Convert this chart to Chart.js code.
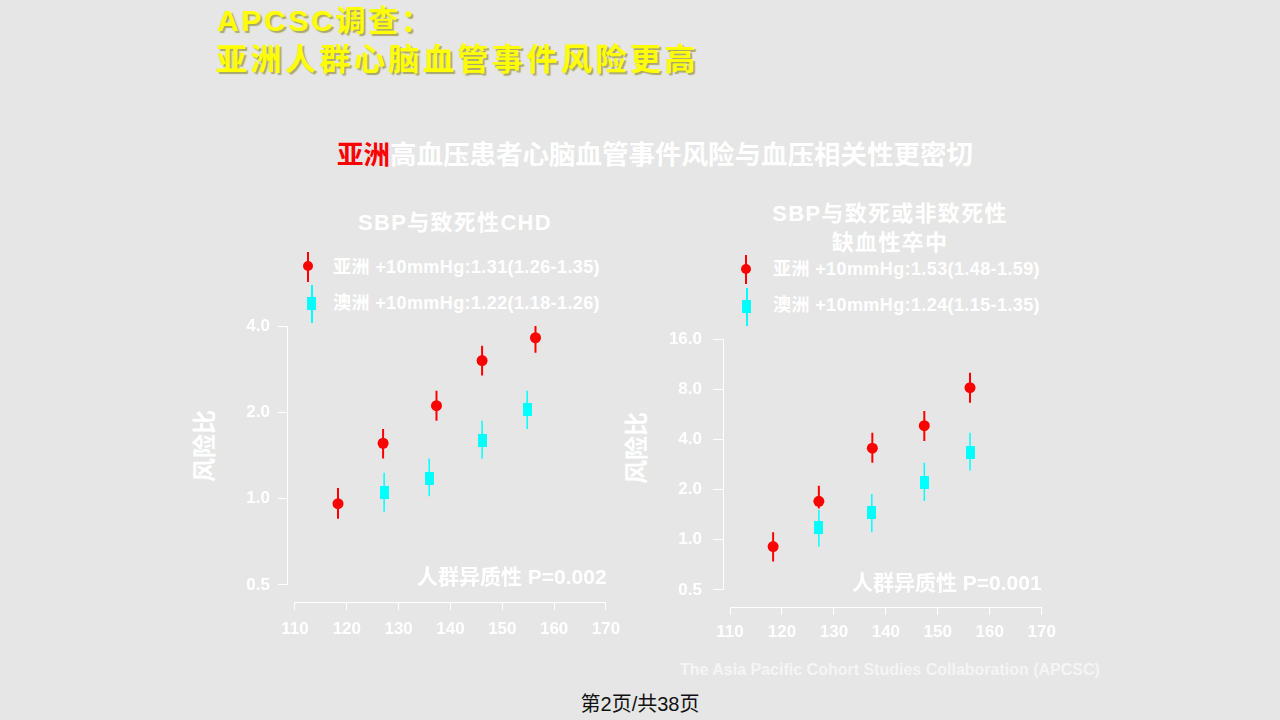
<!DOCTYPE html>
<html>
<head>
<meta charset="utf-8">
<script src="https://cdn.jsdelivr.net/npm/chart.js@4"></script>
<style>
  body { margin: 0; width: 1280px; height: 720px; background: #e6e6e6; position: relative; overflow: hidden;
         font-family: "Liberation Sans", "Noto Sans CJK SC", sans-serif; }
  .abs { position: absolute; white-space: nowrap; }
  .white { color: #ffffff; font-weight: bold; }
  .yel { color: #ffff00; font-weight: bold; text-shadow: 2px 2px 1px rgba(120,120,0,0.55); }
  canvas { position: absolute; }
  .vline { position: absolute; width: 2px; }
  .dot { position: absolute; width: 10px; height: 10px; border-radius: 50%; background: #ff0000; }
  .box { position: absolute; width: 9px; height: 13px; background: #00ffff; }
  .ytitle { position: absolute; transform: translate(-50%, -50%) rotate(-90deg); font-size: 24px; line-height: 28px; }
  .leg { font-size: 18px; line-height: 20px; letter-spacing: 0.4px; }
</style>
</head>
<body>
<div class="abs yel" style="left:217px; top:3px; font-size:30px; line-height:36px; letter-spacing:2.7px;">APCSC调查：</div>
<div class="abs yel" style="left:216px; top:42px; font-size:31px; line-height:36px; letter-spacing:3.5px;">亚洲人群心脑血管事件风险更高</div>

<div class="abs white" style="left:337px; top:140px; font-size:26.5px; line-height:30px;"><span style="color:#ff0000">亚洲</span>高血压患者心脑血管事件风险与血压相关性更密切</div>

<div class="abs white" style="left:455px; top:210px; font-size:22px; line-height:26px; letter-spacing:1.3px; transform:translateX(-50%);">SBP与致死性CHD</div>
<div class="abs white" style="left:890px; top:199px; font-size:22px; line-height:29px; letter-spacing:1.3px; transform:translateX(-50%); text-align:center;">SBP与致死或非致死性<br>缺血性卒中</div>

<!-- legend markers, left -->
<div class="vline" style="left:307px; top:252px; height:30px; background:#ff0000;"></div>
<div class="dot" style="left:303px; top:261px;"></div>
<div class="vline" style="left:311px; top:285px; height:38px; background:#00ffff; width:1.5px;"></div>
<div class="box" style="left:307px; top:297px;"></div>
<div class="abs white leg" style="left:333px; top:257px;">亚洲 +10mmHg:1.31(1.26-1.35)</div>
<div class="abs white leg" style="left:333px; top:293px;">澳洲 +10mmHg:1.22(1.18-1.26)</div>

<!-- legend markers, right -->
<div class="vline" style="left:745px; top:255px; height:29px; background:#ff0000;"></div>
<div class="dot" style="left:741px; top:264px;"></div>
<div class="vline" style="left:746px; top:288px; height:38px; background:#00ffff; width:1.5px;"></div>
<div class="box" style="left:742px; top:300px;"></div>
<div class="abs white leg" style="left:773px; top:259px;">亚洲 +10mmHg:1.53(1.48-1.59)</div>
<div class="abs white leg" style="left:773px; top:295px;">澳洲 +10mmHg:1.24(1.15-1.35)</div>

<div class="ytitle white" style="left:205px; top:446px;">风险比</div>
<div class="ytitle white" style="left:637px; top:448px;">风险比</div>

<canvas id="chartL" width="450" height="350" style="left:180px; top:300px;"></canvas>
<canvas id="chartR" width="460" height="345" style="left:610px; top:310px;"></canvas>

<div class="abs white" style="left:417px; top:565px; font-size:21px; line-height:24px;">人群异质性 P=0.002</div>
<div class="abs white" style="left:852px; top:571px; font-size:21px; line-height:24px;">人群异质性 P=0.001</div>

<div class="abs white" style="left:680px; top:661px; font-size:16px; line-height:18px; color:#f5f5f5;">The Asia Pacific Cohort Studies Collaboration (APCSC)</div>
<div class="abs" style="left:640px; top:692px; font-size:20px; line-height:24px; color:#111; transform:translateX(-50%);">第2页/共38页</div>

<script>
// tick labels
const xTicks = [110, 120, 130, 140, 150, 160, 170];
const yTicksL = [0.5, 1, 2, 4];
const yTicksR = [0.5, 1, 2, 4, 8, 16];

// SBP vs fatal CHD (hazard ratio, 95% CI)
const sbpAsiaL = [118.3, 127.0, 137.3, 146.1, 156.4];
const hrAsiaL  = [0.96, 1.56, 2.11, 3.03, 3.64];
const loAsiaL  = [0.85, 1.38, 1.87, 2.69, 3.23];
const hiAsiaL  = [1.09, 1.75, 2.38, 3.41, 4.11];
const sbpAusL  = [127.2, 135.9, 146.1, 154.8];
const hrAusL   = [1.05, 1.18, 1.60, 2.04];
const loAusL   = [0.90, 1.02, 1.38, 1.75];
const hiAusL   = [1.23, 1.38, 1.87, 2.38];

// SBP vs fatal / non-fatal ischaemic stroke
const sbpAsiaR = [118.3, 127.1, 137.4, 147.4, 156.2];
const hrAsiaR  = [0.91, 1.70, 3.54, 4.83, 8.17];
const loAsiaR  = [0.74, 1.54, 2.90, 3.91, 6.64];
const hiAsiaR  = [1.11, 2.11, 4.39, 5.92, 10.05];
const sbpAusR  = [127.1, 137.3, 147.4, 156.2];
const hrAusR   = [1.18, 1.46, 2.21, 3.35];
const loAusR   = [0.91, 1.11, 1.71, 2.60];
const hiAusR   = [1.51, 1.88, 2.90, 4.39];

Chart.defaults.font.family = '"Liberation Sans", "Noto Sans CJK SC", sans-serif';
Chart.defaults.color = '#ffffff';

const RED = '#ff0000', CYAN = '#00ffff';

// cyan rectangle marker
const rectImg = document.createElement('canvas');
rectImg.width = 9; rectImg.height = 13;
const rc = rectImg.getContext('2d');
rc.fillStyle = CYAN; rc.fillRect(0, 0, 9, 13);

function points(xs, ys) {
  return xs.map((x, i) => ({ x: x, y: ys[i] }));
}
function whiskers(xs, lo, hi) {
  const d = [];
  xs.forEach((x, i) => { d.push({ x: x, y: lo[i] }, { x: x, y: hi[i] }, { x: x, y: null }); });
  return d;
}

// axis lines from first to last tick, like the original figure
const axisLines = {
  id: 'axisLines',
  beforeDatasetsDraw(chart) {
    const { ctx, chartArea, scales: { x, y } } = chart;
    ctx.save();
    ctx.strokeStyle = '#ffffff';
    ctx.lineWidth = 1;
    ctx.beginPath();
    ctx.moveTo(chartArea.left + 0.5, y.getPixelForValue(y.ticks[0].value));
    ctx.lineTo(chartArea.left + 0.5, y.getPixelForValue(y.ticks[y.ticks.length - 1].value));
    ctx.moveTo(x.getPixelForValue(x.ticks[0].value), chartArea.bottom + 0.5);
    ctx.lineTo(x.getPixelForValue(x.ticks[x.ticks.length - 1].value), chartArea.bottom + 0.5);
    ctx.stroke();
    ctx.restore();
  }
};

function makeChart(id, o) {
  new Chart(document.getElementById(id), {
    type: 'scatter',
    data: {
      datasets: [
        { data: points(o.xa, o.ha), pointStyle: 'circle', pointRadius: 5.5, backgroundColor: RED, borderWidth: 0, order: 1 },
        { data: points(o.xb, o.hb), pointStyle: rectImg, order: 1 },
        { data: whiskers(o.xa, o.la, o.ua), showLine: true, borderColor: RED, borderWidth: 2, pointRadius: 0, order: 2 },
        { data: whiskers(o.xb, o.lb, o.ub), showLine: true, borderColor: CYAN, borderWidth: 1.5, pointRadius: 0, order: 2 }
      ]
    },
    options: {
      responsive: false,
      animation: false,
      layout: { padding: o.pad },
      plugins: { legend: { display: false }, tooltip: { enabled: false } },
      scales: {
        x: {
          type: 'linear', min: o.xmin, max: o.xmax,
          afterBuildTicks: s => { s.ticks = xTicks.map(v => ({ value: v })); },
          afterFit: s => { s.height = 40; },
          border: { display: false },
          grid: { drawOnChartArea: false, color: '#ffffff', lineWidth: 1, tickLength: o.xtl },
          ticks: { padding: o.xpad, font: { size: 17, weight: 'bold' }, color: '#ffffff', maxRotation: 0 }
        },
        y: {
          type: 'logarithmic', min: o.ymin, max: o.ymax,
          afterBuildTicks: s => { s.ticks = o.yt.map(v => ({ value: v })); },
          afterFit: s => { s.width = o.yw; },
          border: { display: false },
          grid: { drawOnChartArea: false, color: '#ffffff', lineWidth: 1, tickLength: o.ytl },
          ticks: { padding: o.ypad, font: { size: 17, weight: 'bold' }, color: '#ffffff', callback: v => Number(v).toFixed(1) }
        }
      }
    },
    plugins: [axisLines]
  });
}

makeChart('chartL', {
  xa: sbpAsiaL, ha: hrAsiaL, la: loAsiaL, ua: hiAsiaL,
  xb: sbpAusL, hb: hrAusL, lb: loAusL, ub: hiAusL,
  xmin: 108.46, xmax: 170.97, ymin: 0.436, ymax: 4, yt: yTicksL,
  pad: { top: 26, right: 19, bottom: 8, left: 0 }, yw: 107,
  xtl: 8, xpad: 9, ytl: 9, ypad: 8
});

makeChart('chartR', {
  xa: sbpAsiaR, ha: hrAsiaR, la: loAsiaR, ua: hiAsiaR,
  xb: sbpAusR, hb: hrAusR, lb: loAusR, ub: hiAusR,
  xmin: 108.65, xmax: 171.02, ymin: 0.395, ymax: 16, yt: yTicksR,
  pad: { top: 29, right: 23, bottom: 8, left: 0 }, yw: 113,
  xtl: 8, xpad: 7, ytl: 10, ypad: 11
});
</script>
</body>
</html>
